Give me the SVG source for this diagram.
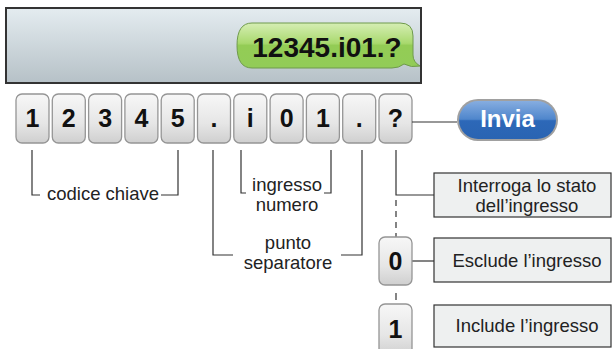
<svg xmlns="http://www.w3.org/2000/svg" width="612" height="349" viewBox="0 0 612 349">
<defs>
<linearGradient id="gScreen" x1="0" y1="0" x2="0" y2="1">
<stop offset="0" stop-color="#e4ecf0"/>
<stop offset="1" stop-color="#b6c1c7"/>
</linearGradient>
<linearGradient id="gBubble" x1="0" y1="0" x2="0" y2="1">
<stop offset="0" stop-color="#d6eeb4"/>
<stop offset="0.45" stop-color="#a9d96e"/>
<stop offset="0.5" stop-color="#93cc55"/>
<stop offset="1" stop-color="#92cc58"/>
</linearGradient>
<linearGradient id="gKey" x1="0" y1="0" x2="0" y2="1">
<stop offset="0" stop-color="#f7f7f7"/>
<stop offset="0.6" stop-color="#e6e6e6"/>
<stop offset="1" stop-color="#cfcfcf"/>
</linearGradient>
<linearGradient id="gBtn" x1="0" y1="0" x2="0" y2="1">
<stop offset="0" stop-color="#86ade0"/>
<stop offset="0.48" stop-color="#4f86cc"/>
<stop offset="0.52" stop-color="#2d68b8"/>
<stop offset="1" stop-color="#2a64b2"/>
</linearGradient>
<style>
.key rect{fill:url(#gKey);stroke:#959595;stroke-width:1.3}
.kt{font-family:"Liberation Sans",Arial,sans-serif;font-weight:bold;font-size:25px;fill:#111;text-anchor:middle}
.lbl{font-family:"Liberation Sans",Arial,sans-serif;font-size:18.5px;fill:#222;text-anchor:middle}
.box rect{fill:#eef0f0;stroke:#333;stroke-width:1.2}
.ln{fill:none;stroke:#333;stroke-width:1.2}
</style>
</defs>
<rect width="612" height="349" fill="#fff"/>

<g id="screen">
<rect x="6" y="8" width="415" height="75" fill="url(#gScreen)" stroke="#333" stroke-width="2"/>
<path d="M 252,23 H 400 Q 413,23 413,36 V 55 Q 413,62 420,66 Q 411,68 404,64 Q 399,68 392,68 H 252 Q 237,68 237,45.5 Q 237,23 252,23 Z" fill="url(#gBubble)" stroke="#6f9a4c" stroke-width="1"/>
<text x="327" y="56.5" font-family="Liberation Sans,Arial,sans-serif" font-weight="bold" font-size="28" fill="#111" text-anchor="middle">12345.i01.?</text>
</g>

<g id="keys">
<g class="key" id="k1"><rect x="16" y="94" width="33" height="49" rx="6"/><text class="kt" x="32.5" y="127">1</text></g>
<g class="key" id="k2"><rect x="52.3" y="94" width="33" height="49" rx="6"/><text class="kt" x="68.8" y="127">2</text></g>
<g class="key" id="k3"><rect x="88.6" y="94" width="33" height="49" rx="6"/><text class="kt" x="105.1" y="127">3</text></g>
<g class="key" id="k4"><rect x="124.9" y="94" width="33" height="49" rx="6"/><text class="kt" x="141.4" y="127">4</text></g>
<g class="key" id="k5"><rect x="161.2" y="94" width="33" height="49" rx="6"/><text class="kt" x="177.7" y="127">5</text></g>
<g class="key" id="k6"><rect x="197.5" y="94" width="33" height="49" rx="6"/><text class="kt" x="214" y="127">.</text></g>
<g class="key" id="k7"><rect x="233.8" y="94" width="33" height="49" rx="6"/><text class="kt" x="250.3" y="127">i</text></g>
<g class="key" id="k8"><rect x="270.1" y="94" width="33" height="49" rx="6"/><text class="kt" x="286.6" y="127">0</text></g>
<g class="key" id="k9"><rect x="306.4" y="94" width="33" height="49" rx="6"/><text class="kt" x="322.9" y="127">1</text></g>
<g class="key" id="k10"><rect x="342.7" y="94" width="33" height="49" rx="6"/><text class="kt" x="359.2" y="127">.</text></g>
<g class="key" id="k11"><rect x="379" y="94" width="33" height="49" rx="6"/><text class="kt" x="395.5" y="127">?</text></g>
</g>

<g id="invia">
<rect x="457" y="99" width="101" height="42" rx="21" fill="#a0a0a0"/>
<rect x="459" y="101" width="97" height="38" rx="19" fill="url(#gBtn)"/>
<text x="507.5" y="127" font-family="Liberation Sans,Arial,sans-serif" font-weight="bold" font-size="24" fill="#fff" text-anchor="middle">Invia</text>
</g>

<g id="connectors">
<line class="ln" x1="412" y1="122" x2="457" y2="122"/>
<path class="ln" d="M 32,150 V 195 H 40"/>
<path class="ln" d="M 161,195 H 178 V 150"/>
<path class="ln" d="M 241,150 V 193 H 246"/>
<path class="ln" d="M 324,193 H 331 V 150"/>
<path class="ln" d="M 213,150 V 255 H 233"/>
<path class="ln" d="M 341,255 H 362 V 150"/>
<path class="ln" d="M 396,150 V 195 H 434"/>
<line class="ln" x1="396" y1="200" x2="396" y2="237" stroke-dasharray="6 5"/>
<line class="ln" x1="396" y1="293" x2="396" y2="300"/>
<line class="ln" x1="412" y1="261" x2="434" y2="261"/>
</g>

<g id="labels">
<text class="lbl" x="103" y="200">codice chiave</text>
<text class="lbl" x="287" y="191">ingresso</text>
<text class="lbl" x="287" y="211">numero</text>
<text class="lbl" x="288" y="249">punto</text>
<text class="lbl" x="288" y="269">separatore</text>
</g>

<g id="k0">
<g class="key"><rect x="379" y="237" width="33" height="48" rx="6"/><text class="kt" x="395.5" y="270">0</text></g>
</g>
<g id="k1b">
<g class="key"><rect x="379" y="304" width="33" height="52" rx="6"/><text class="kt" x="395.5" y="338">1</text></g>
</g>

<g id="box-interroga" class="box">
<rect x="434" y="173" width="177" height="44"/>
<text class="lbl" x="527" y="192">Interroga lo stato</text>
<text class="lbl" x="527" y="212">dell’ingresso</text>
</g>
<g id="box-esclude" class="box">
<rect x="434" y="238" width="177" height="44"/>
<text class="lbl" x="527" y="267">Esclude l’ingresso</text>
</g>
<g id="box-include" class="box">
<rect x="434" y="305" width="177" height="42"/>
<text class="lbl" x="527" y="332">Include l’ingresso</text>
</g>
</svg>
